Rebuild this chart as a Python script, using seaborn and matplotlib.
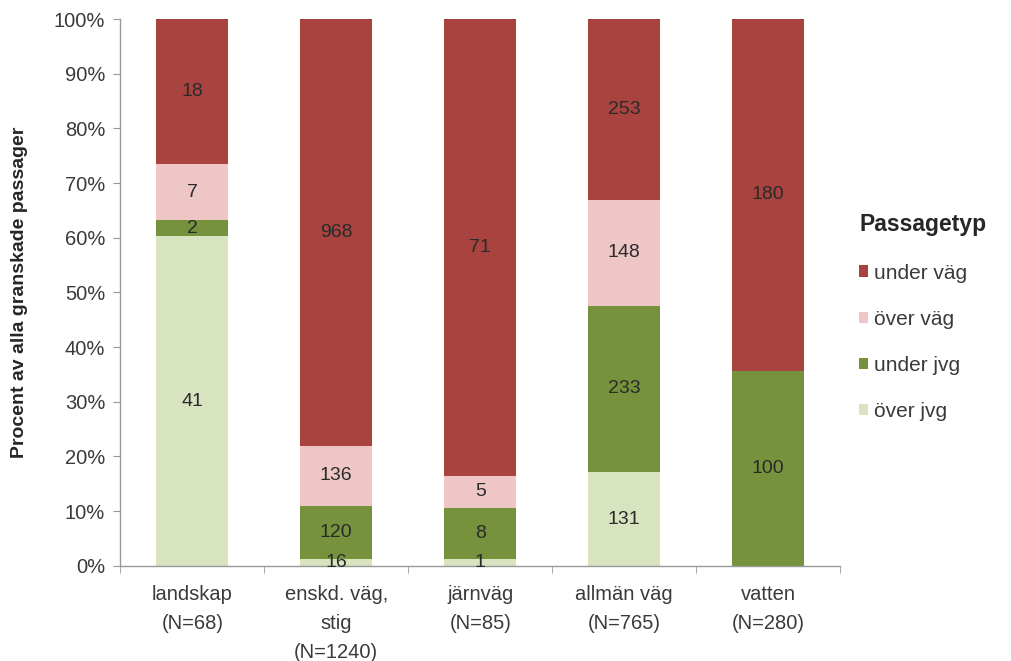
import numpy as np
import pandas as pd
import matplotlib
matplotlib.use("Agg")
import matplotlib.pyplot as plt
from matplotlib.ticker import FixedLocator, PercentFormatter
import seaborn as sns

# data (antal passager per typ)
categories = ["landskap\n(N=68)", "enskd. väg,\nstig\n(N=1240)", "järnväg\n(N=85)",
              "allmän väg\n(N=765)", "vatten\n(N=280)"]
over_jvg = [41, 16, 1, 131, 0]
under_jvg = [2, 120, 8, 233, 100]
over_vag = [7, 136, 5, 148, 0]
under_vag = [18, 968, 71, 253, 180]

series = [("över jvg", over_jvg, "#d8e4bf"),
          ("under jvg", under_jvg, "#76923c"),
          ("över väg", over_vag, "#efc6c6"),
          ("under väg", under_vag, "#a8433f")]

sns.set_style("white")
plt.rcParams["font.family"] = ["Liberation Sans", "DejaVu Sans"]

totals = np.array(over_jvg) + np.array(under_jvg) + np.array(over_vag) + np.array(under_vag)

fig = plt.figure(figsize=(10.12, 6.61), dpi=100)
ax = fig.add_axes([0.119, 0.144, 0.711, 0.827])

bottom = np.zeros(len(categories))
handles = {}
for name, vals, col in series:
    vals = np.array(vals)
    pct = vals / totals * 100
    df = pd.DataFrame({"kat": categories, "pct": pct})
    n_before = len(ax.containers)
    sns.barplot(data=df, x="kat", y="pct", color=col, width=0.5, bottom=bottom,
                saturation=1, ax=ax, errorbar=None, linewidth=0, label=name)
    cont = ax.containers[n_before]
    labels = [str(v) if v > 0 else "" for v in vals]
    ax.bar_label(cont, labels=labels, label_type="center", fontsize=14, color="#2a2a2a")
    handles[name] = cont.patches[0]
    bottom = bottom + pct

ax.set_ylim(0, 100)
ax.set_xlim(-0.5, 4.5)
ax.set_yticks(np.arange(0, 101, 10))
ax.yaxis.set_major_formatter(PercentFormatter(decimals=0))
ax.set_xlabel("")
ax.set_ylabel("Procent av alla granskade passager", fontsize=14, fontweight="bold")
ax.yaxis.set_label_coords(-0.128, 0.5)

sns.despine(ax=ax)
for s in ["left", "bottom"]:
    ax.spines[s].set_color("#999999")
    ax.spines[s].set_linewidth(1.0)

ax.tick_params(axis="y", which="major", direction="out", length=5, color="#999999",
               labelsize=14.5, labelcolor="#3a3a3a", left=True, pad=6)
ax.tick_params(axis="x", which="major", length=0, labelsize=14.5, labelcolor="#3a3a3a", pad=14)
for t in ax.get_xticklabels():
    t.set_linespacing(1.65)
ax.xaxis.set_minor_locator(FixedLocator(np.arange(-0.5, 5, 1)))
ax.tick_params(axis="x", which="minor", direction="out", length=5, color="#999999", bottom=True)

order = ["under väg", "över väg", "under jvg", "över jvg"]
leg = ax.legend([handles[o] for o in order], order, title="Passagetyp", frameon=False,
                loc="center left", bbox_to_anchor=(1.015, 0.455), fontsize=15,
                handlelength=0.45, handleheight=0.45, handletextpad=0.25, labelspacing=1.3,
                alignment="left", borderaxespad=0)
leg.get_title().set_fontweight("bold")
leg.get_title().set_fontsize(16.5)
for t in leg.get_texts():
    t.set_color("#3a3a3a")

fig.savefig("out.png", dpi=100)
